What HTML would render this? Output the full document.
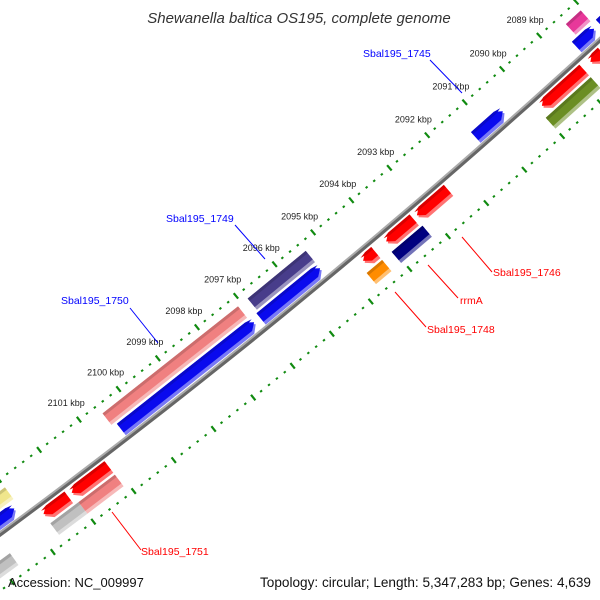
<!DOCTYPE html>
<html><head><meta charset="utf-8">
<style>
html,body{margin:0;padding:0;background:#fff;overflow:hidden;width:600px;height:600px;}
svg{display:block;font-family:"Liberation Sans","DejaVu Sans",sans-serif;}
</style></head>
<body>
<svg id="map" width="600" height="600" viewBox="0 0 600 600">
<rect x="0" y="0" width="600" height="600" fill="#fff"/>
<g id="ticks"></g>
<g id="backbone"></g>
<g id="feats"></g>
<g id="labels"></g>
<text x="299" y="23" text-anchor="middle" font-size="15" font-style="italic" fill="#333">Shewanella baltica OS195, complete genome</text>
<text x="8" y="587" font-size="13" fill="#111">Accession: NC_009997</text>
<text x="591" y="587" text-anchor="end" font-size="13.6" fill="#111">Topology: circular; Length: 5,347,283 bp; Genes: 4,639</text>
</svg>
<script>
const tickKbp = [2086,2087,2088,2089,2090,2091,2092,2093,2094,2095,2096,2097,2098,2099,2100,2101,2102,2103,2104,2105];
const tickLabels = ["2086 kbp","2087 kbp","2088 kbp","2089 kbp","2090 kbp","2091 kbp","2092 kbp","2093 kbp","2094 kbp","2095 kbp","2096 kbp","2097 kbp","2098 kbp","2099 kbp","2100 kbp","2101 kbp","2102 kbp","2103 kbp","2104 kbp","2105 kbp"];
const labeledTicks = [2089,2090,2091,2092,2093,2094,2095,2096,2097,2098,2099,2100,2101];
const featNames = ["f-magenta","f-blue-edge","f-blue-small","f-red-small","f-red-big","f-olive","f-blue-1745","f-red-a","f-red-b","f-navy","f-red-tiny","f-orange","f-purple-1749","f-blue-1749","f-pink-1750","f-blue-1750","f-red-c","f-red-d","f-grey","f-pink-1751","f-yellow","f-blue-left","f-grey-left"];
const featStart = [2088.05,2087.4,2088.1,2088.3,2088.8,2088.8,2090.55,2092.4,2093.3,2093.25,2094.3,2094.3,2095.35,2095.35,2097.1,2097.05,2101.1,2102.1,2102.0,2101.1,2103.0,2103.1,2103.7];
const featEnd = [2088.45,2087.95,2088.6,2088.6,2089.9,2090.0,2091.3,2093.2,2094.0,2094.05,2094.6,2094.7,2096.85,2096.9,2100.55,2100.45,2102.0,2102.7,2102.7,2102.0,2103.6,2104.0,2104.6];
const featTrack = [-2,-1,-1,1,1,2,-1,1,1,2,1,2,-2,-1,-2,-1,1,1,2,2,-2,-1,2];
const featDir = [0,1,1,-1,-1,0,1,-1,-1,0,-1,0,0,1,0,1,-1,-1,0,0,0,1,0];
const featColor = ["#e8389a","#0a0aee","#0a0aee","#ff0000","#ff0000","#6b8e23","#0a0aee","#ff0000","#ff0000","#000080","#ff0000","#ff8c00","#483d8b","#0a0aee","#f08080","#0a0aee","#ff0000","#ff0000","#c0c0c0","#f08080","#f0e68c","#0a0aee","#c0c0c0"];
const lblText=["Sbal195_1745","Sbal195_1749","Sbal195_1750","Sbal195_1746","rrmA","Sbal195_1748","Sbal195_1751"];
const lblColor=["#0000ff","#0000ff","#0000ff","#ff0000","#ff0000","#ff0000","#ff0000"];
const lblTX=[363,166,61,493,460,427,141];
const lblTY=[57,222,304,276,304,333,555];
const lineX1=[430,235,130,462,428,395,112];
const lineY1=[60,225,308,237,265,292,512];
const lineX2=[462,265,158,492,458,426,141];
const lineY2=[93,259,343,272,298,327,550];

const NS="http://www.w3.org/2000/svg";
const CX=-4272, CY=-5263, R0=7200;
const trackR = {"-2":7173,"-1":7190,"1":7212,"2":7229};
function ang(k){ return (48.56+(k-2091)*0.4)*Math.PI/180; }
function pt(k,r){ const a=ang(k); return [CX+r*Math.cos(a), CY+r*Math.sin(a)]; }
function mk(tag,parent){ const e=document.createElementNS(NS,tag); parent.appendChild(e); return e; }

const bb=document.getElementById('backbone');
function arcPath(r){ let d=""; for(let k=2085;k<=2106;k+=0.5){ const p=pt(k,r); d+=(d?"L":"M")+p[0].toFixed(1)+","+p[1].toFixed(1);} return d; }
const b1=mk('path',bb);


b1.setAttribute('d',arcPath(R0+1.5)); b1.setAttribute('stroke','#666'); b1.setAttribute('stroke-width','4'); b1.setAttribute('fill','none');
const b2=mk('path',bb);


b2.setAttribute('d',arcPath(R0-0.5)); b2.setAttribute('stroke','#aaa'); b2.setAttribute('stroke-width','2'); b2.setAttribute('fill','none');

const tg=document.getElementById('ticks');
[7157,7247].forEach(function(r){
  for(let k=2085;k<=2106;k+=0.2){
    const kk=Math.round(k*10)/10;
    const major=Math.abs(kk-Math.round(kk))<0.01;
    const a=mk('line',tg);
    
    
    const len=major?3.5:1;
    const p1=pt(kk,r-len), p2=pt(kk,r+len);
    a.setAttribute('x1',p1[0]); a.setAttribute('y1',p1[1]); a.setAttribute('x2',p2[0]); a.setAttribute('y2',p2[1]);
    a.setAttribute('stroke','#108a10'); a.setAttribute('stroke-width', major?'2.2':'2.4');
  }
});
tickKbp.forEach(function(k,i){
  if(labeledTicks.indexOf(k)<0) return;
  const p=pt(k,7136);
  const t=mk('text',tg);
  
  
  t.setAttribute('x',p[0].toFixed(1)); t.setAttribute('y',(p[1]+3).toFixed(1));
  t.setAttribute('text-anchor','middle'); t.setAttribute('font-size','9'); t.setAttribute('fill','#222');
  t.textContent=tickLabels[i];
});

const fg=document.getElementById('feats');
function shade(hex,f){ const n=parseInt(hex.slice(1),16); let r=n>>16,g=(n>>8)&255,b=n&255;
  if(f>0){r+= (255-r)*f; g+=(255-g)*f; b+=(255-b)*f;} else {r*=1+f; g*=1+f; b*=1+f;}
  return "rgb("+Math.round(r)+","+Math.round(g)+","+Math.round(b)+")"; }
function featPoly(s,e,r,h,dir){
  const pts=[]; const head=0.14;
  let a=s,b=e;
  if(dir===1) a=s+head; if(dir===-1) b=e-head;
  const inner=r-h/2, outer=r+h/2;
  if(dir===1) pts.push(pt(s,r));
  pts.push(pt(a,inner)); pts.push(pt(b,inner));
  if(dir===-1) pts.push(pt(e,r));
  pts.push(pt(b,outer)); pts.push(pt(a,outer));
  return pts.map(function(p){return p[0].toFixed(1)+","+p[1].toFixed(1);}).join(" ");
}
featStart.forEach(function(s,i){
  const e=featEnd[i], r=trackR[String(featTrack[i])], h=13, c=featColor[i], d=featDir[i];
  const g=mk('g',fg);
  
  
  const sh=mk('polygon',g);
  
  
  sh.setAttribute('points',featPoly(s,e,r+1.5,h,d)); sh.setAttribute('fill',shade(c,0.45));
  const p=mk('polygon',g);
  
  
  p.setAttribute('points',featPoly(s,e,r-1,h-2,d)); p.setAttribute('fill',c);
  const hl=mk('polygon',g);
  
  
  hl.setAttribute('points',featPoly(s,e,r-5,3,d)); hl.setAttribute('fill',shade(c,-0.15));
});

const lg=document.getElementById('labels');
lblText.forEach(function(t,i){
  const l=mk('line',lg);
  
  
  l.setAttribute('x1',lineX1[i]); l.setAttribute('y1',lineY1[i]); l.setAttribute('x2',lineX2[i]); l.setAttribute('y2',lineY2[i]);
  l.setAttribute('stroke',lblColor[i]); l.setAttribute('stroke-width','1');
  const tx=mk('text',lg);
  
  
  tx.setAttribute('x',lblTX[i]); tx.setAttribute('y',lblTY[i]);
  tx.setAttribute('font-size','10.5'); tx.setAttribute('fill',lblColor[i]);
  tx.textContent=t;
});
</script>
</body></html>
